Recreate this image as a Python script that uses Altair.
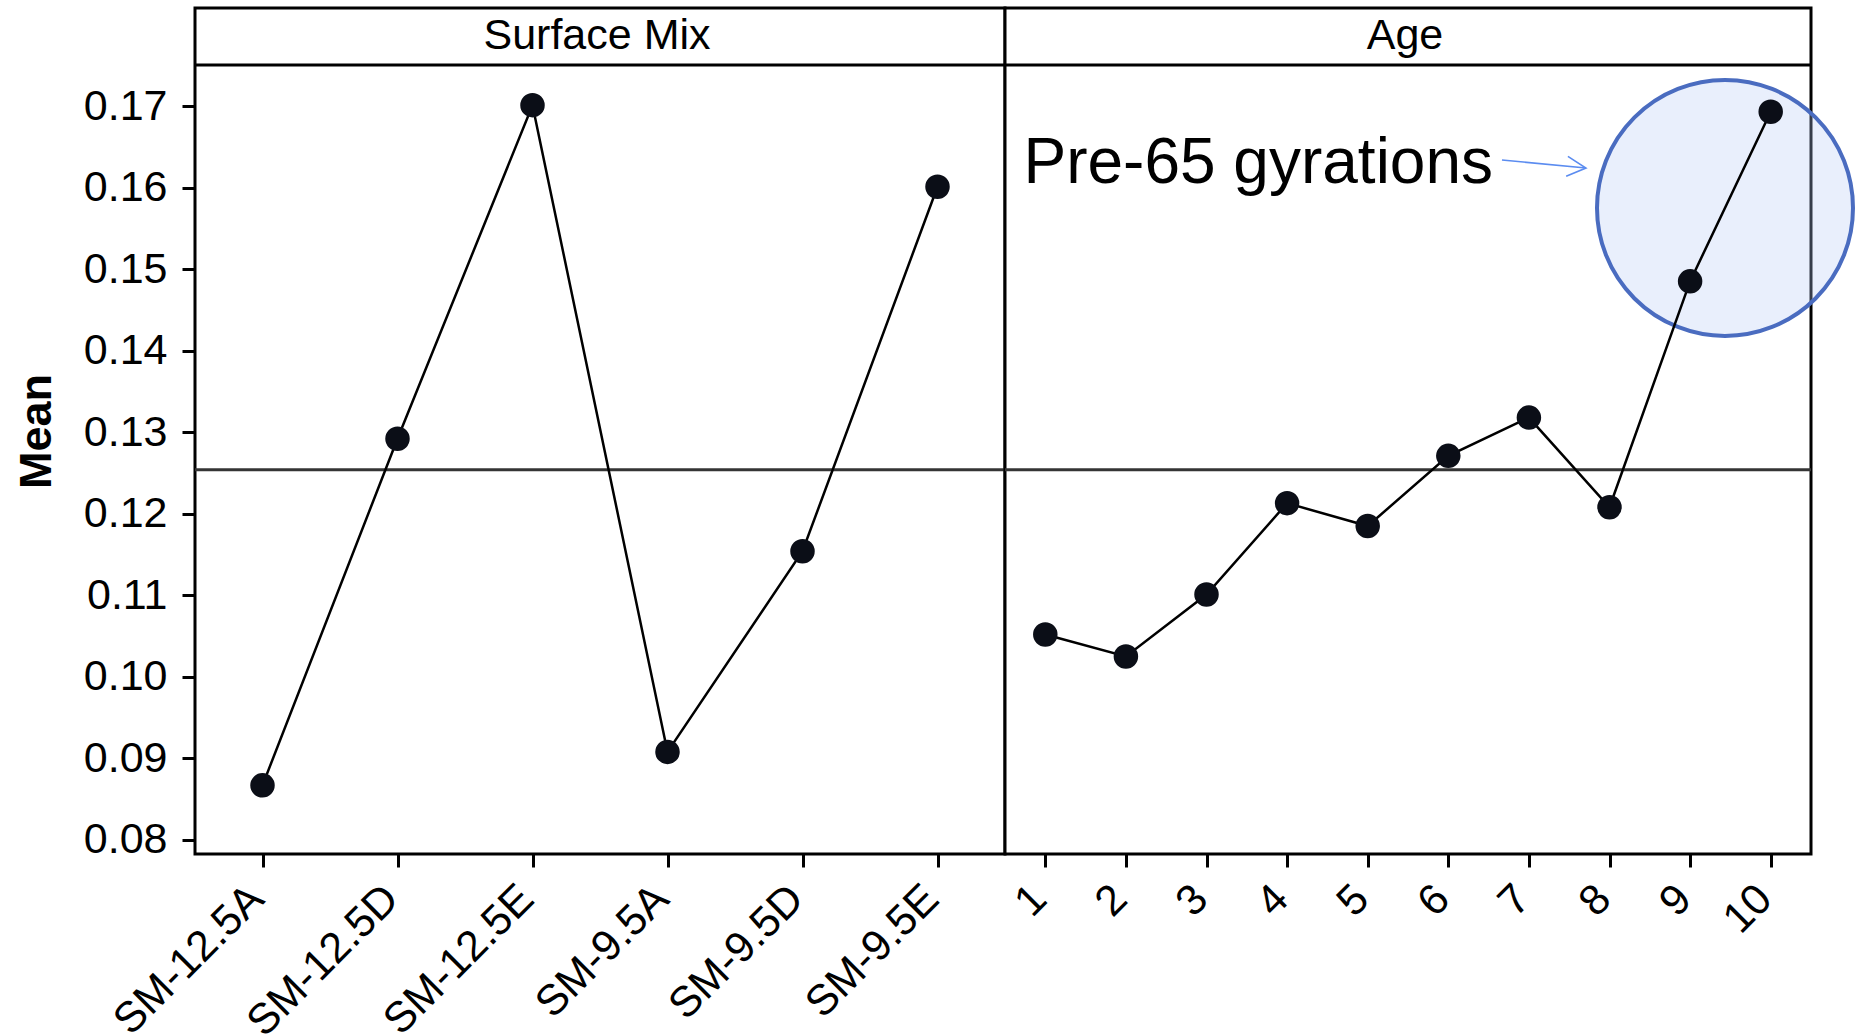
import altair as alt
import pandas as pd

# ---- data ----
mix_levels = ["SM-12.5A", "SM-12.5D", "SM-12.5E", "SM-9.5A", "SM-9.5D", "SM-9.5E"]
mix_means = [0.0867, 0.1292, 0.1701, 0.0908, 0.1154, 0.1601]

age_levels = [1, 2, 3, 4, 5, 6, 7, 8, 9, 10]
age_means = [0.1052, 0.1025, 0.1101, 0.1213, 0.1185, 0.1271, 0.1318, 0.1208, 0.1485, 0.1693]

grand_mean = [0.1254]
y_ticks = [0.08, 0.09, 0.10, 0.11, 0.12, 0.13, 0.14, 0.15, 0.16, 0.17]
plot_top = [0.17503]                 # top of the plotting region (below the strip)
y_domain = [0.07828, 0.18202]        # includes the header strip above the plot
panel_titles = ["Surface Mix", "Age"]

# annotation (in data coordinates of the Age panel)
note_text = ["Pre-65 gyrations"]
note_x = [6.555]
note_y = [0.16056]
circle_x = [9.433]
circle_y = [0.1575]
arrow_x = [6.666]
arrow_x2 = [7.708]
arrow_y = [0.16338]
arrow_y2 = [0.1624]

FONT = "Liberation Sans"
H = 846
W_LEFT = 810
W_RIGHT = 806

yscale = alt.Scale(domain=y_domain, nice=False, zero=False)
xscale_age = alt.Scale(domain=[0.5, 10.5], nice=False, zero=False)
xscale_mix = alt.Scale(type="point", padding=0.5)

mix_df = pd.DataFrame({"level": mix_levels, "mean": mix_means})
age_df = pd.DataFrame({"age": age_levels, "mean": age_means})
gm_df = pd.DataFrame({"gm": grand_mean})
top_df = pd.DataFrame({"top": plot_top})

XLAB = dict(title=None, labelAngle=-45, labelAlign="right", labelBaseline="top",
            labelPadding=10, labelOffset=-21, labelLimit=600)


def strip(title, width):
    tdf = pd.DataFrame({"t": [title]})
    txt = alt.Chart(tdf).mark_text(
        font=FONT, fontSize=43, color="black", align="center", baseline="alphabetic"
    ).encode(text="t:N", x=alt.value(width / 2 - 3), y=alt.value(41))
    sep = alt.Chart(top_df).mark_rule(color="black", strokeWidth=3).encode(
        y=alt.Y("top:Q", scale=yscale, axis=None)
    )
    return txt, sep


def refline():
    return alt.Chart(gm_df).mark_rule(color="#353535", strokeWidth=3).encode(
        y=alt.Y("gm:Q", scale=yscale, axis=None)
    )


# ---------- left panel ----------
mix_line = alt.Chart(mix_df).mark_line(color="black", strokeWidth=2.5).encode(
    x=alt.X("level:N", sort=mix_levels, scale=xscale_mix, axis=None),
    y=alt.Y("mean:Q", scale=yscale, axis=None),
)
mix_pts = alt.Chart(mix_df).mark_circle(size=600, color="#0b0e17", opacity=1).encode(
    x=alt.X("level:N", sort=mix_levels, scale=xscale_mix, axis=alt.Axis(**XLAB)),
    y=alt.Y(
        "mean:Q",
        scale=yscale,
        axis=alt.Axis(title="Mean", values=y_ticks, format=".2f", titleFontWeight="bold",
                      titleFont=FONT, titleFontSize=45, titlePadding=24, labelPadding=15,
                      titleColor="black"),
    ),
)
t1, s1 = strip(panel_titles[0], W_LEFT)
left = (
    alt.layer(refline(), s1, t1, mix_line, mix_pts)
    .resolve_axis(x="independent", y="independent")
    .properties(width=W_LEFT, height=H)
)

# ---------- right panel ----------
circ_df = pd.DataFrame({"cx": circle_x, "cy": circle_y})
circle = alt.Chart(circ_df).mark_point(
    shape="circle", size=65536, filled=True, fill="#b6caf5", fillOpacity=0.3,
    stroke="#4a6cc0", strokeWidth=4, strokeOpacity=1, opacity=1
).encode(x=alt.X("cx:Q", scale=xscale_age, axis=None),
         y=alt.Y("cy:Q", scale=yscale, axis=None))

age_line = alt.Chart(age_df).mark_line(color="black", strokeWidth=2.5).encode(
    x=alt.X("age:Q", scale=xscale_age, axis=None),
    y=alt.Y("mean:Q", scale=yscale, axis=None),
)
age_pts = alt.Chart(age_df).mark_circle(size=600, color="#0b0e17", opacity=1).encode(
    x=alt.X("age:Q", scale=xscale_age,
            axis=alt.Axis(values=age_levels, format="d", **XLAB)),
    y=alt.Y("mean:Q", scale=yscale, axis=None),
)

note_df = pd.DataFrame({"t": note_text, "nx": note_x, "ny": note_y})
note = alt.Chart(note_df).mark_text(
    font=FONT, fontSize=64, color="black", align="right", baseline="alphabetic"
).encode(text="t:N",
         x=alt.X("nx:Q", scale=xscale_age, axis=None),
         y=alt.Y("ny:Q", scale=yscale, axis=None))

arr_df = pd.DataFrame({"ax": arrow_x, "ax2": arrow_x2, "ay": arrow_y, "ay2": arrow_y2})
arrow_line = alt.Chart(arr_df).mark_rule(color="#5b8cf0", strokeWidth=1.6).encode(
    x=alt.X("ax:Q", scale=xscale_age, axis=None), x2="ax2:Q",
    y=alt.Y("ay:Q", scale=yscale, axis=None), y2="ay2:Q",
)
arrow_head = alt.Chart(arr_df).mark_point(
    shape="M-1.9,-1L0,0L-1.9,1", size=400, filled=False, stroke="#5b8cf0",
    strokeWidth=1.6, angle=5, opacity=1
).encode(x=alt.X("ax2:Q", scale=xscale_age, axis=None),
         y=alt.Y("ay2:Q", scale=yscale, axis=None))

t2, s2 = strip(panel_titles[1], W_RIGHT)
right = (
    alt.layer(circle, refline(), s2, t2, note, arrow_line, arrow_head, age_line, age_pts)
    .resolve_axis(x="independent", y="independent")
    .properties(width=W_RIGHT, height=H)
)

chart = (
    alt.hconcat(left, right, spacing=0, bounds="flush")
    .properties(padding={"left": 12, "top": 6, "right": 5, "bottom": 5}, background="white")
    .configure_view(stroke="black", strokeWidth=3, fill="white")
    .configure_axis(
        domain=False, grid=False, ticks=True, tickColor="black", tickWidth=3, tickSize=13,
        labelFont=FONT, labelFontSize=43, labelColor="black",
    )
)

chart.save("out.html", embed_options={"renderer": "svg", "actions": False})
